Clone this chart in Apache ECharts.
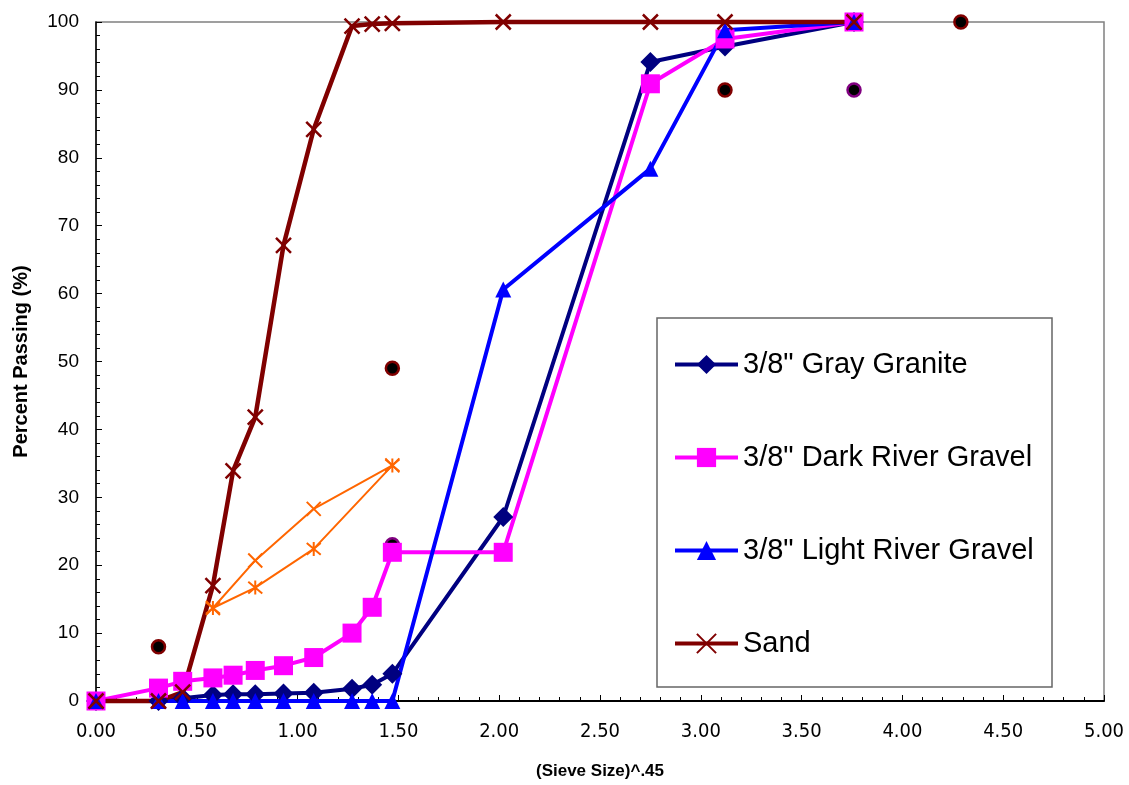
<!DOCTYPE html>
<html lang="en">
<head>
    <meta charset="UTF-8">
    <title>Gradation</title>
    <script src="https://cdn.jsdelivr.net/npm/echarts/dist/echarts.min.js"></script>
</head>
<style>
    body{
        margin:0;
        padding:0;
        background:#fff;
    }
    #chart{
        width:1129px;
        height:785px;
    }
</style>
<body>
    <div id="chart"></div>
    <script>
        // (sieve size)^.45 positions
        var sieveX = [0, 0.31, 0.43, 0.58, 0.68, 0.79, 0.93, 1.08, 1.27, 1.37, 1.47, 2.02, 2.75, 3.12, 3.76];
        var graniteY = [0, 0, 0.4, 0.9, 1.0, 1.0, 1.1, 1.2, 1.8, 2.4, 4.0, 27.1, 94.1, 96.4, 100];
        var darkY = [0, 1.9, 2.9, 3.4, 3.8, 4.5, 5.2, 6.4, 10.0, 13.8, 21.9, 21.9, 90.9, 97.5, 100];
        var lightY = [0, 0, 0, 0, 0, 0, 0, 0, 0, 0, 0, 60.6, 78.4, 98.8, 100];
        var sandY = [0, 0, 1.3, 17.0, 33.9, 41.8, 67.1, 84.2, 99.4, 99.7, 99.8, 100, 100, 100, 100];

        var orangeX = [0.58, 0.79, 1.08, 1.47];
        var crossY = [13.7, 20.7, 28.3, 34.7];
        var starY = [13.7, 16.7, 22.4, 34.7];

        var upperX = [0.31, 1.47, 3.12, 3.76, 4.29];
        var upperY = [8, 49, 90, 100, 100];
        var lowerX = [0.31, 1.47, 3.76];
        var lowerY = [2, 23, 90];

        var names = ['3/8" Gray Granite', '3/8" Dark River Gravel', '3/8" Light River Gravel', 'Sand'];

        var crossPath = 'path://M0,0L10,10M10,0L0,10';
        var starPath = 'path://M0,0L10,10M10,0L0,10M5,-1L5,11';
        var narrow = 'DejaVu Sans Condensed, Liberation Sans Narrow, sans-serif';

        function pairs(xs, ys){
            var out = [];
            for (var i = 0; i < xs.length; i++) {
                out.push([xs[i], ys[i]]);
            }
            return out;
        }

        var chart = echarts.init(document.getElementById('chart'));
        var option = {
            animation: false,
            grid: {
                left: 96, right: 25, top: 22, bottom: 81,
                show: true,
                borderColor: '#808080',
                borderWidth: 1.5
            },
            legend: {
                data: names,
                orient: 'vertical',
                left: 673,
                top: 350,
                padding: 0,
                itemWidth: 63,
                itemHeight: 24,
                itemGap: 64,
                selectedMode: false,
                lineStyle: {width: 4},
                textStyle: {
                    fontFamily: 'Liberation Sans, Arial, sans-serif',
                    fontSize: 29,
                    lineHeight: 28,
                    color: '#000'
                }
            },
            graphic: [{
                type: 'rect',
                shape: {x: 657, y: 318, width: 395, height: 369},
                style: {fill: 'none', stroke: '#666', lineWidth: 1.5},
                z: 1
            }],
            xAxis: {
                type: 'value',
                min: 0, max: 5, interval: 0.5,
                name: '(Sieve Size)^.45',
                nameLocation: 'middle',
                nameGap: 62,
                nameTextStyle: {
                    fontFamily: 'Liberation Sans, Arial, sans-serif',
                    fontWeight: 'bold', fontSize: 17, color: '#000'
                },
                axisLine: {lineStyle: {color: '#000', width: 2}},
                axisTick: {inside: true, length: 6, lineStyle: {color: '#000'}},
                minorTick: {show: true, splitNumber: 5, length: 4, lineStyle: {color: '#000'}},
                splitLine: {show: false},
                axisLabel: {
                    margin: 21,
                    fontFamily: narrow,
                    fontSize: 20, color: '#000',
                    formatter: function(v){ return v.toFixed(2); }
                }
            },
            yAxis: {
                type: 'value',
                min: 0, max: 100, interval: 10,
                name: 'Percent Passing (%)',
                nameLocation: 'middle',
                nameGap: 65,
                nameTextStyle: {
                    fontFamily: 'Liberation Sans, Arial, sans-serif',
                    fontWeight: 'bold', fontSize: 20, color: '#000'
                },
                axisLine: {show: true, lineStyle: {color: '#000', width: 1.5}},
                axisTick: {show: true, inside: true, length: 6, lineStyle: {color: '#000'}},
                minorTick: {show: true, splitNumber: 5, length: 4, lineStyle: {color: '#000'}},
                splitLine: {show: false},
                axisLabel: {
                    margin: 17,
                    fontFamily: 'Liberation Sans, Arial, sans-serif',
                    fontSize: 19, color: '#000'
                }
            },
            series: [
                {
                    name: names[0], type: 'line', clip: false,
                    data: pairs(sieveX, graniteY),
                    symbol: 'diamond', symbolSize: 20,
                    lineStyle: {color: '#000080', width: 4},
                    itemStyle: {color: '#000080'}
                },
                {
                    name: names[1], type: 'line', clip: false,
                    data: pairs(sieveX, darkY),
                    symbol: 'rect', symbolSize: 19,
                    lineStyle: {color: '#ff00ff', width: 4},
                    itemStyle: {color: '#ff00ff'}
                },
                {
                    name: names[2], type: 'line', clip: false,
                    data: pairs(sieveX, lightY),
                    symbol: 'triangle', symbolSize: 16,
                    lineStyle: {color: '#0000ff', width: 4},
                    itemStyle: {color: '#0000ff'}
                },
                {
                    name: names[3], type: 'line', clip: false,
                    data: pairs(sieveX, sandY),
                    symbol: crossPath, symbolSize: 15,
                    lineStyle: {color: '#800000', width: 4.5},
                    itemStyle: {color: '#800000', borderColor: '#800000', borderWidth: 2.5}
                },
                {
                    name: 'x', type: 'line', clip: false,
                    data: pairs(orangeX, crossY),
                    symbol: crossPath, symbolSize: 14,
                    lineStyle: {color: '#ff6600', width: 2},
                    itemStyle: {color: '#ff6600', borderColor: '#ff6600', borderWidth: 2}
                },
                {
                    name: 'star', type: 'line', clip: false,
                    data: pairs(orangeX, starY),
                    symbol: starPath, symbolSize: 14,
                    lineStyle: {color: '#ff6600', width: 2},
                    itemStyle: {color: '#ff6600', borderColor: '#ff6600', borderWidth: 2}
                },
                {
                    name: 'upper', type: 'scatter', clip: false,
                    data: pairs(upperX, upperY),
                    symbol: 'circle', symbolSize: 13,
                    itemStyle: {color: '#000', borderColor: '#800000', borderWidth: 2.5, opacity: 1}
                },
                {
                    name: 'lower', type: 'scatter', clip: false,
                    data: pairs(lowerX, lowerY),
                    symbol: 'circle', symbolSize: 13,
                    itemStyle: {color: '#000', borderColor: '#800080', borderWidth: 2.5, opacity: 1}
                }
            ]
        };
        chart.setOption(option);
    </script>
</body>
</html>
